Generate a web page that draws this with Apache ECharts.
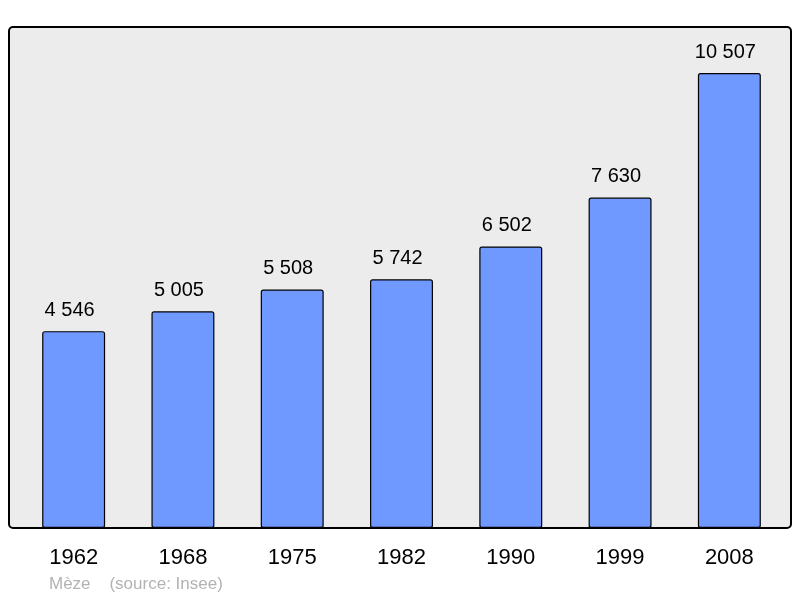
<!DOCTYPE html>
<html>
<head>
<meta charset="utf-8">
<style>
  html, body { margin: 0; padding: 0; background: #fff; }
  #chart { width: 800px; height: 598px; }
</style>
<script src="https://cdn.jsdelivr.net/npm/echarts@6/dist/echarts.min.js"></script>
</head>
<body>
<div id="chart"></div>
<script>
// population data (Mèze, source Insee)
const years = ['1962', '1968', '1975', '1982', '1990', '1999', '2008']
const population = [4546, 5005, 5508, 5742, 6502, 7630, 10507]

const fmt = (v) => String(v).replace(/\B(?=(\d{3})+(?!\d))/g, ' ')

const chart = echarts.init(document.getElementById('chart'))
chart.setOption({
  animation: false,
  textStyle: { fontFamily: 'Liberation Sans, Arial, sans-serif' },
  graphic: [
    {
      type: 'rect',
      z: -10,
      shape: { x: 9, y: 27, width: 782, height: 501, r: 4 },
      style: { fill: '#ececec', stroke: '#000', lineWidth: 2 }
    },
    {
      type: 'text',
      left: 49,
      top: 576,
      style: {
        text: 'Mèze    (source: Insee)',
        fill: '#b3b3b3',
        font: '17px Liberation Sans, Arial, sans-serif'
      }
    }
  ],
  grid: { left: 19, right: 16, top: 27, bottom: 70 },
  xAxis: {
    type: 'category',
    data: years,
    axisLine: { show: false },
    axisTick: { show: false },
    axisLabel: { color: '#000', fontSize: 22, margin: 19 }
  },
  yAxis: {
    type: 'value',
    min: 0,
    max: 11570,
    show: false,
    splitLine: { show: false }
  },
  series: [
    {
      type: 'bar',
      data: population,
      barWidth: '57.6%',
      itemStyle: {
        color: '#7099ff',
        borderColor: '#000',
        borderWidth: 1.2,
        borderRadius: 2
      },
      label: {
        show: true,
        position: 'top',
        distance: 11,
        offset: [-4, 0],
        color: '#000',
        fontSize: 20,
        formatter: (p) => fmt(p.value)
      }
    }
  ]
})
</script>
</body>
</html>
